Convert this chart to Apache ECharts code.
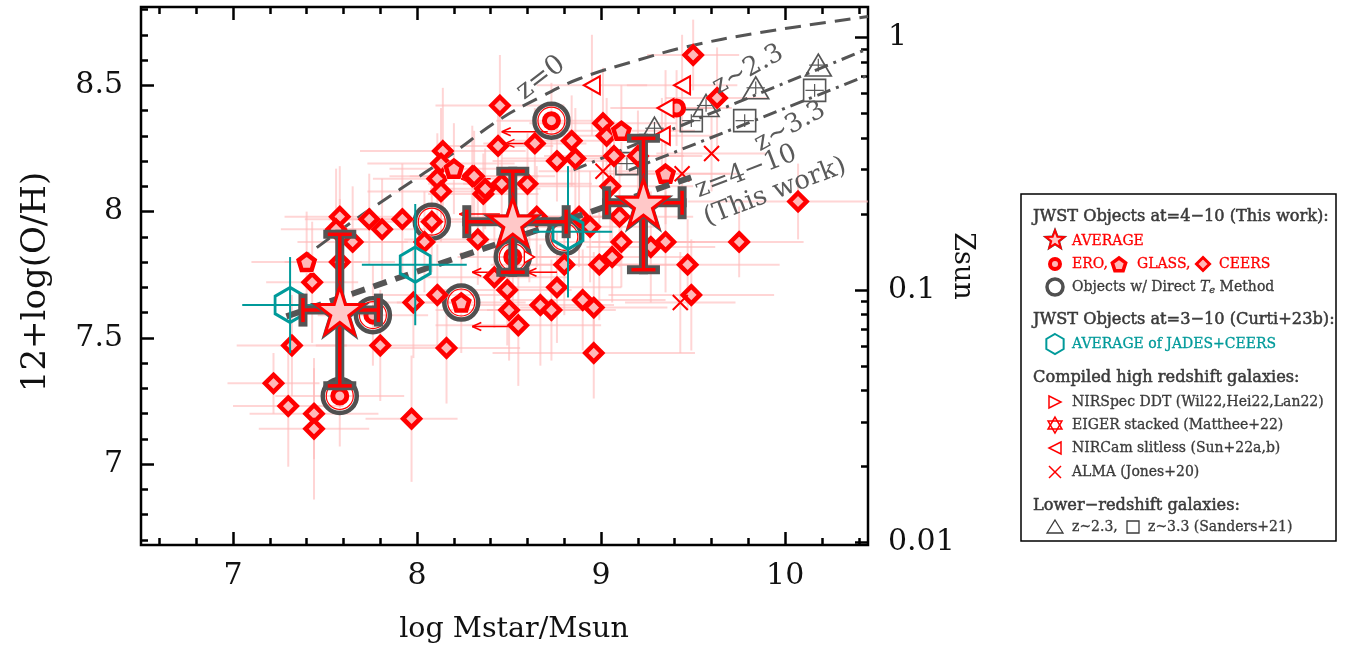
<!DOCTYPE html>
<html><head><meta charset="utf-8">
<script src="https://cdn.jsdelivr.net/npm/echarts@6/dist/echarts.min.js"></script>
<style>html,body{margin:0;padding:0;background:#fff}#c{width:1348px;height:647px}</style>
</head><body><div id="c"></div>
<script>
// ---------- axes ----------
const X_MIN = 6.5, X_MAX = 10.45, Y_MIN = 6.68, Y_MAX = 8.81;
const xMajorTicks = [7, 8, 9, 10];
const xMinorTicks = [6.6, 6.8, 7.2, 7.4, 7.6, 7.8, 8.2, 8.4, 8.6, 8.8, 9.2, 9.4, 9.6, 9.8, 10.2, 10.4];
const yMajorTicks = [7, 7.5, 8, 8.5];
const yMinorTicks = [6.7, 6.8, 6.9, 7.1, 7.2, 7.3, 7.4, 7.6, 7.7, 7.8, 7.9, 8.1, 8.2, 8.3, 8.4, 8.6, 8.7, 8.8];
const zsunMajor = [0.01, 0.1, 1];
const zsunMinor = [0.02, 0.03, 0.04, 0.05, 0.06, 0.07, 0.08, 0.09, 0.2, 0.3, 0.4, 0.5, 0.6, 0.7, 0.8, 0.9];
const SOLAR_OH = 8.69;

// ---------- data: [logM, 12+log(O/H), xerr, yerr] ----------
const ceers = [
 [9.50,8.62,0.25,0.14],[8.45,8.42,0.35,0.20],[8.44,8.26,0.30,0.16],[8.64,8.27,0.28,0.14],
 [8.84,8.28,0.32,0.18],[9.01,8.35,0.40,0.22],[9.03,8.30,0.30,0.15],[9.63,8.45,0.28,0.20],
 [8.76,8.20,0.35,0.16],[8.86,8.21,0.40,0.20],[9.07,8.22,0.38,0.14],[9.20,8.22,0.35,0.18],
 [8.14,8.24,0.45,0.25],[8.13,8.19,0.40,0.22],[8.30,8.14,0.45,0.20],[8.11,8.13,0.35,0.18],
 [8.13,8.08,0.40,0.20],[8.36,8.07,0.30,0.16],[8.46,8.11,0.40,0.18],[8.60,8.11,0.35,0.20],
 [9.05,8.10,0.45,0.22],[7.58,7.98,0.30,0.20],[7.56,7.93,0.30,0.24],[7.74,7.97,0.35,0.18],
 [7.81,7.93,0.30,0.20],[7.92,7.97,0.40,0.22],[8.08,7.96,0.35,0.20],[7.65,7.88,0.30,0.22],
 [8.04,7.88,0.35,0.20],[8.33,7.89,0.40,0.18],[7.58,7.80,0.30,0.25],[7.43,7.72,0.25,0.24],
 [7.98,7.64,0.30,0.22],[8.11,7.67,0.35,0.20],[8.42,7.74,0.40,0.20],[8.49,7.69,0.35,0.22],
 [8.50,7.61,0.40,0.20],[8.55,7.55,0.45,0.24],[7.32,7.47,0.30,0.20],[7.80,7.47,0.35,0.22],
 [8.16,7.46,0.40,0.22],[7.22,7.32,0.25,0.12],[7.30,7.23,0.30,0.24],[7.44,7.20,0.35,0.18],
 [7.44,7.14,0.30,0.28],[7.97,7.18,0.25,0.25],[8.80,7.79,0.40,0.20],[8.99,7.79,0.45,0.22],
 [9.06,7.82,0.40,0.18],[9.47,7.79,0.50,0.18],[8.76,7.70,0.35,0.22],[8.67,7.63,0.40,0.24],
 [8.73,7.61,0.35,0.20],[8.90,7.65,0.45,0.20],[8.96,7.62,0.40,0.22],[8.96,7.44,0.55,0.18],
 [9.49,7.67,0.45,0.22],[10.07,8.04,0.60,0.15],[9.75,7.88,0.35,0.14],[9.35,7.88,0.40,0.20],
 [9.11,7.88,0.40,0.18],[8.31,8.14,0.35,0.18],[8.65,7.98,0.35,0.20],[8.88,7.98,0.40,0.20],
 [8.94,7.94,0.35,0.22],[9.10,7.98,0.40,0.20],[9.27,7.86,0.35,0.22],[8.37,8.09,0.30,0.16]
];
const glass = [[8.20,8.17,0.35,0.18],[7.40,7.80,0.30,0.20],[8.24,7.64,0.35,0.20],[9.11,8.32,0.40,0.18],[9.35,8.15,0.35,0.20]];
const ero = [[8.73,8.36,0.30,0.15],[7.58,7.27,0.35,0.20],[9.41,8.41,0.30,0.15],[7.76,7.59,0.30,0.20],[8.52,7.82,0.30,0.18]];
const directTe = [[8.73,8.36],[8.08,7.96],[8.24,7.64],[7.58,7.27],[7.76,7.59],[8.52,7.82],[8.80,7.90]];
const nircam = [[8.95,8.50,0.30,0.20],[9.44,8.50,0.30,0.20],[9.35,8.41,0.30,0.15],[9.33,8.30,0.30,0.15]];
const nirspec = [[8.61,7.82,0.20,0.10]];
const alma = [[9.01,8.16,0.35,0.15],[9.44,8.15,0.30,0.15],[9.60,8.23,0.30,0.15],[9.43,7.64,0.30,0.20]];
// upper limits on mass: [x tail, y, x head]
const limits = [[8.71,8.316,8.46],[8.70,8.27,8.48],[8.45,7.99,8.23],[8.50,7.76,8.30],[8.52,7.545,8.30],[8.76,7.76,8.60],[8.40,8.13,8.24]];
// Sanders+21 stacks: [x, y]
const sandersZ23 = [[10.18,8.58],[9.84,8.49],[9.57,8.42],[9.29,8.33]];
const sandersZ33 = [[10.16,8.48],[9.78,8.36],[9.49,8.36],[9.14,8.19]];
// averages: [x, y, xlo, xhi, ylo, yhi]
const avgThisWork = [[7.58,7.61,7.38,7.79,7.31,7.91],[8.52,7.96,8.27,8.81,7.76,8.16],[9.23,8.035,9.03,9.44,7.77,8.29]];
const avgCurti = [[7.31,7.63,7.05,7.57,7.44,7.82],[7.99,7.79,7.70,8.27,7.55,8.03],[8.82,7.92,8.63,9.06,7.66,8.18]];
// relations
const relZ0 = [[7.347,7.798],[7.634,7.953],[7.905,8.087],[8.176,8.221],[8.447,8.364],[8.664,8.451],[8.881,8.526],[9.206,8.601],[9.461,8.652],[9.856,8.708],[10.45,8.772]];
const relZ23 = [[8.85,8.165],[10.45,8.645]];
const relZ33 = [[9.15,8.163],[10.45,8.54]];
const relThisWork = [[7.29,7.585],[9.53,8.146]];

// ---------- styling constants ----------
const FONT = '"DejaVu Serif", serif';
const RED = '#ff0000', PINK = '#ffb8b8', GRAY = '#555555', TEAL = '#009a9a', ERRPINK = 'rgba(255,185,185,0.6)';
const P_STAR = 'path://M50,0L61.2,34.5L97.6,34.5L68.2,55.9L79.4,90.5L50,69.1L20.6,90.5L31.8,55.9L2.4,34.5L38.8,34.5Z';
const P_PENT = 'path://M50,0L97.6,34.5L79.4,90.5L20.6,90.5L2.4,34.5Z';
const P_HEX = 'path://M50,0L93.3,25L93.3,75L50,100L6.7,75L6.7,25Z';
const P_LTRI = 'path://M0,50L100,0L100,100Z';
const P_RTRI = 'path://M100,50L0,0L0,100Z';
const P_UTRI = 'path://M50,0L100,90L0,90Z';
const P_X = 'path://M0,0L100,100M100,0L0,100';

const toErr = arr => arr.map(d => [d[0], d[1], d[0]-d[2], d[0]+d[2], d[1]-d[3], d[1]+d[3]]);
const pinkErrData = [].concat(toErr(ceers), toErr(glass), toErr(ero), toErr(nircam), toErr(alma), toErr(nirspec));
const sandersErr = sandersZ23.concat(sandersZ33).map(d => [d[0], d[1], d[0]-0.05, d[0]+0.05, d[1]-0.025, d[1]+0.025]);

function errRender(color, width) {
  return function (params, api) {
    const x = api.value(0), y = api.value(1);
    const a = api.coord([api.value(2), y]), b = api.coord([api.value(3), y]);
    const c = api.coord([x, api.value(4)]), d = api.coord([x, api.value(5)]);
    return {type: 'group', children: [
      {type: 'line', shape: {x1: a[0], y1: a[1], x2: b[0], y2: b[1]}, style: {stroke: color, lineWidth: width}},
      {type: 'line', shape: {x1: c[0], y1: c[1], x2: d[0], y2: d[1]}, style: {stroke: color, lineWidth: width}}
    ]};
  };
}
function starErrRender(params, api) {
  const x = api.value(0), y = api.value(1);
  const a = api.coord([api.value(2), y]), b = api.coord([api.value(3), y]);
  const c = api.coord([x, api.value(4)]), d = api.coord([x, api.value(5)]);
  const cap = 12, kids = [];
  const segs = [[a[0],a[1],b[0],b[1]],[c[0],c[1],d[0],d[1]],
    [a[0],a[1]-cap,a[0],a[1]+cap],[b[0],b[1]-cap,b[0],b[1]+cap],
    [c[0]-cap,c[1],c[0]+cap,c[1]],[d[0]-cap,d[1],d[0]+cap,d[1]]];
  segs.forEach(s => kids.push({type:'line', shape:{x1:s[0],y1:s[1],x2:s[2],y2:s[3]}, style:{stroke:GRAY, lineWidth:9, lineCap:'square'}}));
  segs.forEach(s => kids.push({type:'line', shape:{x1:s[0],y1:s[1],x2:s[2],y2:s[3]}, style:{stroke:RED, lineWidth:3.5, lineCap:'butt'}}));
  return {type:'group', children: kids};
}
function arrowRender(params, api) {
  const t = api.coord([api.value(0), api.value(1)]), h = api.coord([api.value(2), api.value(1)]);
  return {type:'group', children:[
    {type:'line', shape:{x1:t[0],y1:t[1],x2:h[0],y2:h[1]}, style:{stroke:RED, lineWidth:1.5}},
    {type:'line', shape:{x1:h[0],y1:h[1],x2:h[0]+9,y2:h[1]-4}, style:{stroke:RED, lineWidth:1.5}},
    {type:'line', shape:{x1:h[0],y1:h[1],x2:h[0]+9,y2:h[1]+4}, style:{stroke:RED, lineWidth:1.5}}
  ]};
}
const ENC6 = {x: [0, 2, 3], y: [1, 4, 5]};

function scatter(data, symbol, size, style, z) {
  return {type: 'scatter', data: data.map(d => [d[0], d[1]]), symbol: symbol, symbolSize: size,
    itemStyle: Object.assign({opacity: 1}, style), z: z || 3, silent: true, animation: false};
}

const series = [
  {type:'custom', renderItem: errRender(ERRPINK, 2), data: pinkErrData, encode: ENC6, clip: true, z: 1, silent: true, animation:false},
  {type:'line', data: relZ0, smooth: 0.4, showSymbol:false, lineStyle:{color:GRAY, width:3, type:[16,9]}, z:2, silent:true, animation:false},
  {type:'line', data: relZ23, showSymbol:false, lineStyle:{color:GRAY, width:3, type:[14,6,3,6]}, z:2, silent:true, animation:false},
  {type:'line', data: relZ33, showSymbol:false, lineStyle:{color:GRAY, width:3, type:[14,6,3,6]}, z:2, silent:true, animation:false},
  {type:'custom', renderItem: errRender(GRAY, 1.2), data: sandersErr, encode: ENC6, z: 2, silent: true, animation:false},
  scatter(sandersZ23, P_UTRI, [26, 22], {color:'rgba(255,255,255,0)', borderColor:GRAY, borderWidth:1.6}, 2),
  scatter(sandersZ33, 'rect', 22, {color:'rgba(255,255,255,0)', borderColor:GRAY, borderWidth:1.6}, 2),
  {type:'custom', renderItem: arrowRender, data: limits, encode:{x:[0,2], y:[1]}, z: 3, silent:true, animation:false},
  scatter(directTe, 'circle', 34, {color:'rgba(255,255,255,0)', borderColor:'#505050', borderWidth:4.5}, 3),
  scatter(directTe, 'circle', 27, {color:'rgba(255,255,255,0)', borderColor:RED, borderWidth:1.2}, 3),
  scatter(ceers, 'diamond', 23, {color:'#ffffff'}, 3),
  scatter(ceers, 'diamond', 17, {color:PINK, borderColor:RED, borderWidth:4.5}, 3),
  scatter(glass, P_PENT, 22, {color:'#ffffff'}, 3),
  scatter(glass, P_PENT, 16, {color:PINK, borderColor:RED, borderWidth:4.5}, 3),
  scatter(ero, 'circle', 14, {color:PINK, borderColor:RED, borderWidth:5}, 3),
  scatter(nircam, P_LTRI, [16, 18], {color:'#ffffff', borderColor:RED, borderWidth:2}, 3),
  scatter(nirspec, P_RTRI, [10, 12], {color:'#ffffff', borderColor:RED, borderWidth:1.5}, 3),
  scatter(alma, P_X, 15, {color:'rgba(0,0,0,0)', borderColor:RED, borderWidth:2}, 3),
  {type:'line', data: relThisWork, showSymbol:false, lineStyle:{color:GRAY, width:6, type:[14,9]}, z:4, silent:true, animation:false},
  {type:'custom', renderItem: errRender(TEAL, 2), data: avgCurti, encode: ENC6, z: 5, silent:true, animation:false},
  scatter(avgCurti, P_HEX, [30, 35], {color:'rgba(255,255,255,0)', borderColor:TEAL, borderWidth:3}, 5),
  {type:'custom', renderItem: starErrRender, data: avgThisWork, encode: ENC6, z: 6, silent:true, animation:false},
  scatter(avgThisWork, P_STAR, 60, {color:GRAY}, 6),
  scatter(avgThisWork, P_STAR, 47, {color:'#ffc8c8', borderColor:RED, borderWidth:3}, 6)
];

// ---------- axes ----------
const zPos = z => SOLAR_OH + Math.log10(z);
const zsunMajorPos = zsunMajor.map(zPos), zsunMinorPos = zsunMinor.map(zPos);
const tickLab = {fontFamily: FONT, fontSize: 30, color: '#111'};
function xAx(pos, ticks, len, labels) {
  return {type:'value', position:pos, min:X_MIN, max:X_MAX, splitLine:{show:false},
    axisLine:{show:false}, axisTick:{show:true, inside:true, length:len, customValues:ticks, lineStyle:{color:'#000', width:2.5}},
    axisLabel: labels ? Object.assign({show:true, customValues:ticks, margin:16}, tickLab) : {show:false}};
}
function yAx(pos, ticks, len, labels, fmt) {
  return {type:'value', position:pos, min:Y_MIN, max:Y_MAX, splitLine:{show:false},
    axisLine:{show:false}, axisTick:{show:true, inside:true, length:len, customValues:ticks, lineStyle:{color:'#000', width:2.5}},
    axisLabel: labels ? Object.assign({show:true, customValues:ticks, margin:pos==='left'?18:20, formatter:fmt}, tickLab) : {show:false}};
}
const zFmt = v => { for (let i = 0; i < zsunMajorPos.length; i++) if (Math.abs(zsunMajorPos[i]-v) < 1e-6) return String(zsunMajor[i]); return ''; };

// ---------- legend (graphic) ----------
function starPts(cx, cy, R, r) { const p=[]; for (let i=0;i<10;i++){ const a=-Math.PI/2+i*Math.PI/5, rr=i%2?r:R; p.push([cx+rr*Math.cos(a), cy+rr*Math.sin(a)]);} return p; }
function polyPts(cx, cy, R, n, rot) { const p=[]; for (let i=0;i<n;i++){ const a=rot+i*2*Math.PI/n; p.push([cx+R*Math.cos(a), cy+R*Math.sin(a)]);} return p; }
const LX = 1033, IX = 1055, TX = 1072;
const hStyle = {fontFamily: FONT, fontSize: 16.2, fill: '#3a3a3a', stroke:'#3a3a3a', lineWidth:0.5, verticalAlign:'middle'};
const iStyle = (fill) => ({fontFamily: FONT, fontSize: 14, fill: fill, stroke: fill, lineWidth: 0.3, verticalAlign:'middle'});
function txt(x, y, s, st) { return {type:'text', x:x, y:y, style:Object.assign({text:s}, st), z:20}; }
const legend = [
  {type:'rect', shape:{x:1021, y:194, width:315, height:347}, style:{fill:'#fff', stroke:'#000', lineWidth:1.5}, z:19},
  txt(LX, 217, 'JWST Objects at=4\u221210 (This work):', hStyle),
  {type:'polygon', shape:{points:starPts(IX,240,13,5.5)}, style:{fill:GRAY}, z:20},
  {type:'polygon', shape:{points:starPts(IX,240,9.5,4)}, style:{fill:'#ffc8c8', stroke:RED, lineWidth:2}, z:21},
  txt(TX, 241, 'AVERAGE', iStyle(RED)),
  {type:'circle', shape:{cx:IX, cy:264, r:5}, style:{fill:PINK, stroke:RED, lineWidth:4}, z:20},
  txt(TX, 264, 'ERO,', iStyle(RED)),
  {type:'polygon', shape:{points:polyPts(1119,265,7,5,-Math.PI/2)}, style:{fill:PINK, stroke:RED, lineWidth:3.5}, z:20},
  txt(1137, 264, 'GLASS,', iStyle(RED)),
  {type:'polygon', shape:{points:polyPts(1203,264,6.5,4,-Math.PI/2)}, style:{fill:PINK, stroke:RED, lineWidth:3}, z:20},
  txt(1219, 264, 'CEERS', iStyle(RED)),
  {type:'circle', shape:{cx:IX, cy:287, r:8}, style:{fill:'none', stroke:'#505050', lineWidth:3.5}, z:20},
  {type:'text', x:TX, y:287, z:20, style:{text:'Objects w/ Direct {it|T}{sub|e} Method', fontFamily:FONT, fontSize:14, fill:'#3a3a3a', stroke:'#3a3a3a', lineWidth:0.3, verticalAlign:'middle',
    rich:{it:{fontStyle:'italic', fontFamily:FONT, fontSize:14, fill:'#3a3a3a'}, sub:{fontStyle:'italic', fontFamily:FONT, fontSize:10, fill:'#3a3a3a', padding:[6,0,0,0]}}}},
  txt(LX, 320, 'JWST Objects at=3\u221210 (Curti+23b):', hStyle),
  {type:'polygon', shape:{points:polyPts(IX,344,10,6,-Math.PI/2)}, style:{fill:'none', stroke:TEAL, lineWidth:2}, z:20},
  txt(TX, 344, 'AVERAGE of JADES+CEERS', iStyle(TEAL)),
  txt(LX, 378, 'Compiled high redshift galaxies:', hStyle),
  {type:'polygon', shape:{points:[[IX-6,396],[IX+6,402],[IX-6,408]]}, style:{fill:'none', stroke:RED, lineWidth:1.5}, z:20},
  txt(TX, 402, 'NIRSpec DDT (Wil22,Hei22,Lan22)', iStyle('#3a3a3a')),
  {type:'polygon', shape:{points:polyPts(IX,425,8,3,-Math.PI/2)}, style:{fill:'none', stroke:RED, lineWidth:1.5}, z:20},
  {type:'polygon', shape:{points:polyPts(IX,425,8,3,Math.PI/2)}, style:{fill:'none', stroke:RED, lineWidth:1.5}, z:20},
  txt(TX, 425, 'EIGER stacked (Matthee+22)', iStyle('#3a3a3a')),
  {type:'polygon', shape:{points:[[IX+6,442],[IX-6,448],[IX+6,454]]}, style:{fill:'none', stroke:RED, lineWidth:1.5}, z:20},
  txt(TX, 448, 'NIRCam slitless (Sun+22a,b)', iStyle('#3a3a3a')),
  {type:'line', shape:{x1:IX-6,y1:466,x2:IX+6,y2:478}, style:{stroke:RED, lineWidth:1.5}, z:20},
  {type:'line', shape:{x1:IX+6,y1:466,x2:IX-6,y2:478}, style:{stroke:RED, lineWidth:1.5}, z:20},
  txt(TX, 472, 'ALMA (Jones+20)', iStyle('#3a3a3a')),
  txt(LX, 506, 'Lower\u2212redshift galaxies:', hStyle),
  {type:'polygon', shape:{points:[[IX,520],[IX+8,533],[IX-8,533]]}, style:{fill:'none', stroke:'#3a3a3a', lineWidth:1.3}, z:20},
  txt(TX, 527, 'z~2.3,', iStyle('#3a3a3a')),
  {type:'rect', shape:{x:1127, y:521, width:12, height:12}, style:{fill:'none', stroke:'#3a3a3a', lineWidth:1.3}, z:20},
  txt(1148, 527, 'z~3.3 (Sanders+21)', iStyle('#3a3a3a'))
];
const D2R = Math.PI / 180;
const relLabel = (x, y, s, deg, size) => ({type:'text', x:x, y:y, rotation:deg*D2R, z:10,
  style:{text:s, fontFamily:FONT, fontSize:size, fill:'#5a5a5a', align:'center', verticalAlign:'middle'}});
const titles = [
  {type:'text', x:36, y:282, rotation:Math.PI/2, z:10, style:{text:'12+log(O/H)', fontFamily:FONT, fontSize:34, fill:'#111', align:'center', verticalAlign:'middle'}},
  {type:'text', x:514, y:630, z:10, style:{text:'log Mstar/Msun', fontFamily:FONT, fontSize:28.5, fill:'#111', align:'center', verticalAlign:'middle'}},
  {type:'text', x:962, y:266, rotation:-Math.PI/2, z:10, style:{text:'Zsun', fontFamily:FONT, fontSize:27, fill:'#111', align:'center', verticalAlign:'middle'}},
  relLabel(541, 78, 'z=0', 38, 27),
  relLabel(748, 70, 'z~2.3', 29, 26),
  relLabel(790, 127, 'z~3.3', 29, 26),
  relLabel(746, 172, 'z=4\u221210', 21, 26),
  relLabel(775, 192, '(This work)', 21, 26)
];

const chart = echarts.init(document.getElementById('c'), null, {renderer:'canvas'});
chart.setOption({
  backgroundColor:'#fff',
  animation:false,
  grid:{left:141, top:7, width:727, height:538, show:true, borderColor:'#000', borderWidth:2.5, backgroundColor:'transparent'},
  xAxis:[xAx('bottom', xMajorTicks, 13, true), xAx('bottom', xMinorTicks, 7, false), xAx('top', xMajorTicks, 13, false), xAx('top', xMinorTicks, 7, false)],
  yAxis:[yAx('left', yMajorTicks, 13, true), yAx('left', yMinorTicks, 7, false), yAx('right', zsunMajorPos, 13, true, zFmt), yAx('right', zsunMinorPos, 7, false)],
  series: series,
  graphic: titles.concat(legend)
});
</script></body></html>
